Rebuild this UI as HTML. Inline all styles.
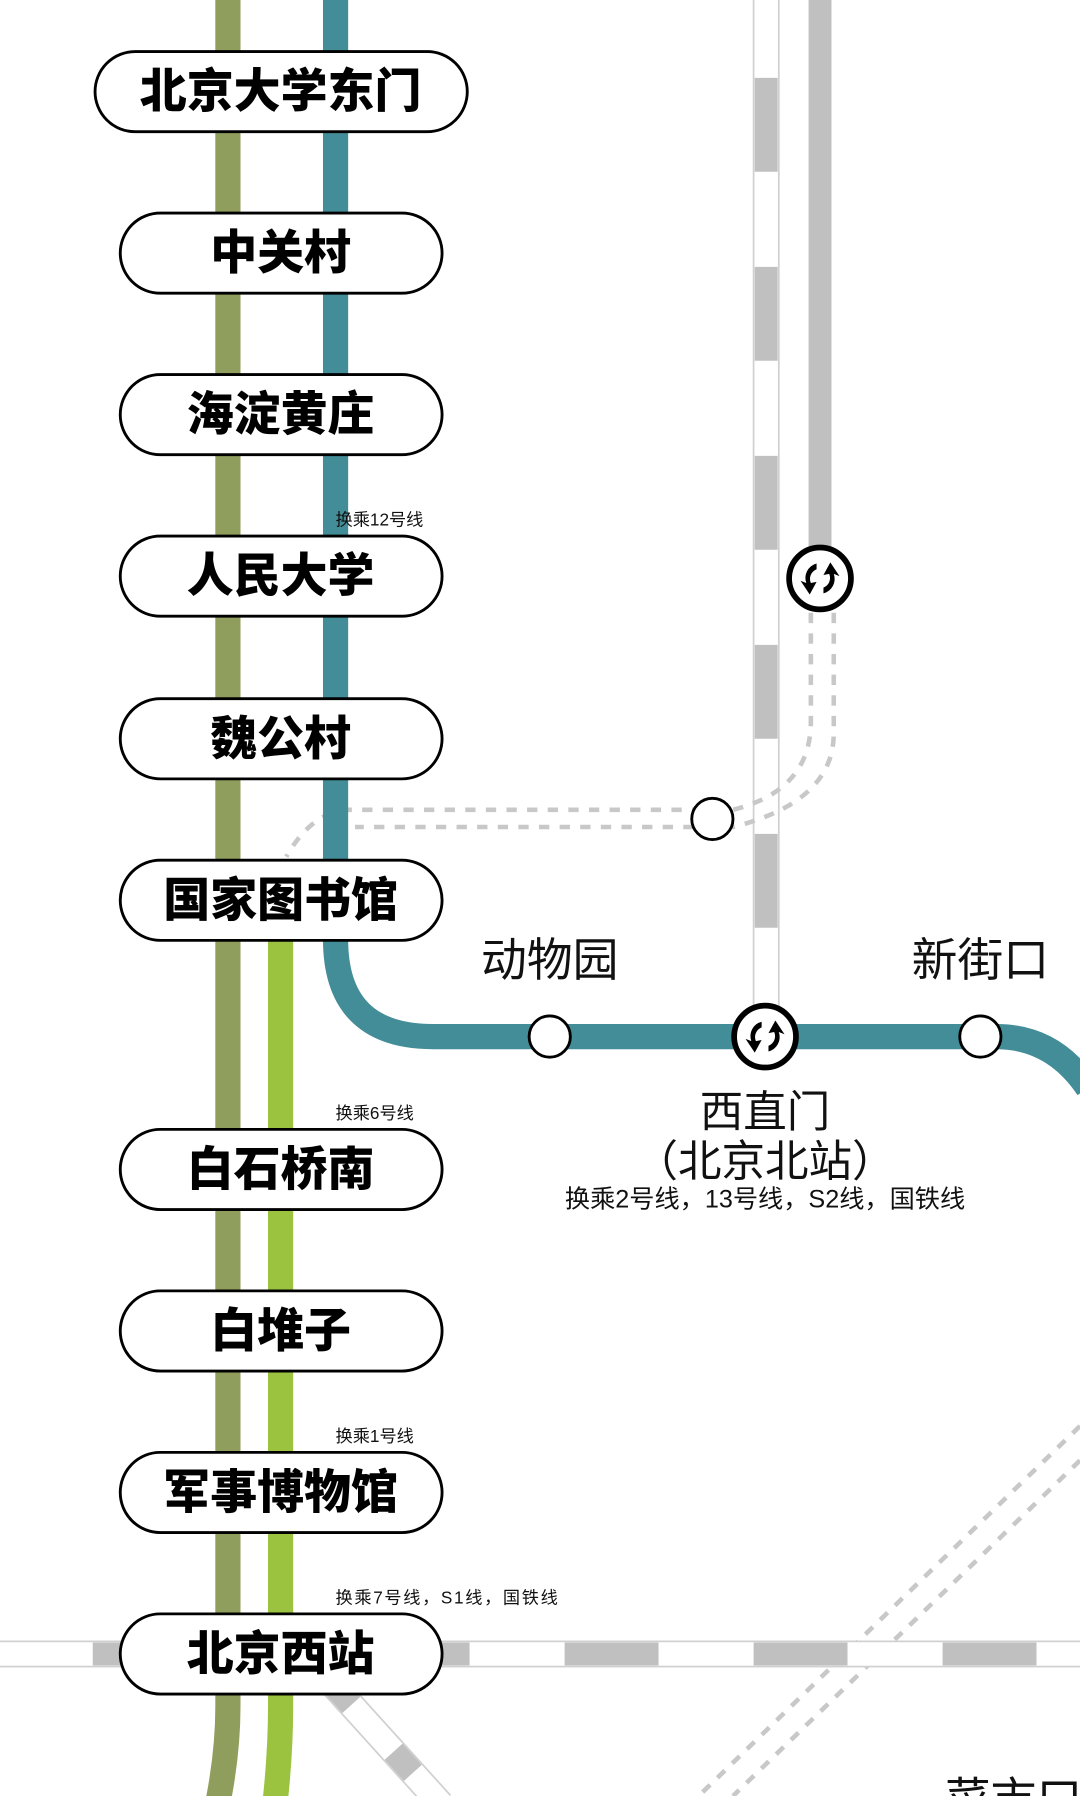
<!DOCTYPE html>
<html><head><meta charset="utf-8"><style>
html,body{margin:0;padding:0;background:#fff;width:1080px;height:1796px;overflow:hidden}
svg{display:block}
.pt{font-family:"Liberation Sans","Noto Sans CJK SC",sans-serif;font-weight:900;font-size:41px;fill:#000;text-anchor:middle}
.sm{font-family:"Liberation Sans","Noto Sans CJK SC",sans-serif;font-size:15px;fill:#111}
.lb{font-family:"Liberation Sans","Noto Sans CJK SC",sans-serif;font-size:40px;fill:#111;text-anchor:middle}
</style></head><body>
<svg width="1080" height="1796" viewBox="0 0 943 1568" preserveAspectRatio="none">
<defs>
<g id="xfer">
<circle r="27" fill="#fff" stroke="#000" stroke-width="5"/>
<path d="M-3,-13 A13,13 0 0 0 -12,4 L-17,2 L-9,14 L-3,3 L-8,4 A9,9 0 0 1 -3,-8 Z" fill="#000"/>
<path d="M3,13 A13,13 0 0 0 12,-4 L17,-2 L9,-14 L3,-3 L8,-4 A9,9 0 0 1 3,8 Z" fill="#000"/>
</g>
</defs>
<!-- vertical railway -->
<rect x="658" y="-2" width="22" height="907" fill="#fff" stroke="#d0d0d0" stroke-width="1.5"/>
<line x1="669" y1="-97" x2="669" y2="905" stroke="#c0c0c0" stroke-width="20" stroke-dasharray="82 83"/>
<!-- second gray line -->
<line x1="716" y1="0" x2="716" y2="490" stroke="#c0c0c0" stroke-width="20"/>
<!-- dashed transfer paths -->
<g fill="none" stroke="#c8c8c8" stroke-width="4" stroke-dasharray="9 9">
<path d="M708,535 V630 Q708,690 640,707 H300 Q270,712 250,748"/>
<path d="M728,535 V640 Q728,700 640,722 H310"/>
<path d="M943,1245 L610,1568"/>
<path d="M943,1275 L640,1568"/>
</g>
<!-- bottom horizontal railway -->
<rect x="-2" y="1433" width="947" height="22" fill="#fff" stroke="#d0d0d0" stroke-width="1.5"/>
<g fill="#c0c0c0">
<rect x="81" y="1434" width="82" height="20"/>
<rect x="328" y="1434" width="82" height="20"/>
<rect x="493" y="1434" width="82" height="20"/>
<rect x="658" y="1434" width="82" height="20"/>
<rect x="823" y="1434" width="82" height="20"/>
</g>
<!-- diagonal railway -->
<line x1="290" y1="1470" x2="385" y2="1575" stroke="#d0d0d0" stroke-width="24"/>
<line x1="290" y1="1470" x2="385" y2="1575" stroke="#fff" stroke-width="21"/>
<line x1="290" y1="1470" x2="385" y2="1575" stroke="#c0c0c0" stroke-width="21" stroke-dasharray="25 55"/>
<!-- olive line -->
<path d="M199,0 V1490 Q199,1530 190,1575" fill="none" stroke="#8f9e5c" stroke-width="22"/>
<!-- lime line -->
<path d="M245,800 V1490 Q245,1530 240,1575" fill="none" stroke="#9bc33f" stroke-width="22"/>
<!-- teal line -->
<path d="M293,0 V820 Q293,905 378,905 H870 Q920,905 950,950" fill="none" stroke="#438d98" stroke-width="22"/>
<!-- stations on horizontal -->
<circle cx="480" cy="905" r="18" fill="#fff" stroke="#000" stroke-width="2.5"/>
<circle cx="856" cy="905" r="18" fill="#fff" stroke="#000" stroke-width="2.5"/>
<circle cx="622" cy="715" r="18" fill="#fff" stroke="#000" stroke-width="2.5"/>
<use href="#xfer" x="668" y="905"/>
<use href="#xfer" x="716" y="505"/>
<!-- labels -->
<text class="lb" x="480" y="852">动物园</text>
<text class="lb" x="856" y="852">新街口</text>
<text class="lb" x="668" y="984" style="font-size:38px">西直门</text>
<text class="lb" x="668" y="1027" style="font-size:38px">（北京北站）</text>
<text class="lb" x="668" y="1054" style="font-size:22px">换乘2号线，13号线，S2线，国铁线</text>
<text class="lb" x="885" y="1585">菜市口</text>
<text class="sm" x="293" y="459">换乘12号线</text>
<text class="sm" x="293" y="977">换乘6号线</text>
<text class="sm" x="293" y="1259">换乘1号线</text>
<text class="sm" x="293" y="1400" textLength="194">换乘7号线，S1线，国铁线</text>
<!-- pills -->
<g fill="#fff" stroke="#000" stroke-width="2.5">
<rect x="83" y="45" width="325" height="70" rx="35"/>
<rect x="105" y="186" width="281" height="70" rx="35"/>
<rect x="105" y="327" width="281" height="70" rx="35"/>
<rect x="105" y="468" width="281" height="70" rx="35"/>
<rect x="105" y="610" width="281" height="70" rx="35"/>
<rect x="105" y="751" width="281" height="70" rx="35"/>
<rect x="105" y="986" width="281" height="70" rx="35"/>
<rect x="105" y="1127" width="281" height="70" rx="35"/>
<rect x="105" y="1268" width="281" height="70" rx="35"/>
<rect x="105" y="1409" width="281" height="70" rx="35"/>
</g>
<text class="pt" x="245" y="94">北京大学东门</text>
<text class="pt" x="245" y="235">中关村</text>
<text class="pt" x="245" y="376">海淀黄庄</text>
<text class="pt" x="245" y="517">人民大学</text>
<text class="pt" x="245" y="659">魏公村</text>
<text class="pt" x="245" y="800">国家图书馆</text>
<text class="pt" x="245" y="1035">白石桥南</text>
<text class="pt" x="245" y="1176">白堆子</text>
<text class="pt" x="245" y="1317">军事博物馆</text>
<text class="pt" x="245" y="1458">北京西站</text>
</svg>
</body></html>
